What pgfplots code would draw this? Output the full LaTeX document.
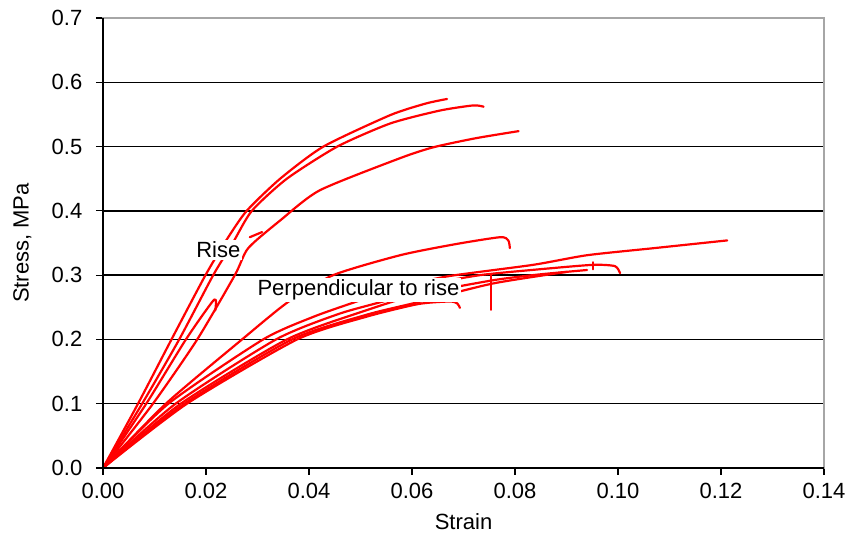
\documentclass[border=0pt]{standalone}
\usepackage{pgfplots}
\pgfplotsset{compat=1.18}
\usepackage{fontspec}
\setmainfont{Liberation Sans}

\begin{document}
\fontsize{11}{13}\selectfont
\begin{tikzpicture}
% frame of the whole picture: 1 px = 0.5pt of the 850x539 reference
\path[use as bounding box] (-51.5pt,-35.5pt) rectangle (373.5pt,234pt);
\begin{axis}[
    scale only axis,
    width=360.5pt, height=225pt,
    xmin=0, xmax=0.14, ymin=0, ymax=0.7,
    xtick={0,0.02,...,0.14}, ytick={0,0.1,...,0.7},
    /pgf/number format/assume math mode=true,
    xticklabel style={/pgf/number format/.cd, fixed, fixed zerofill, precision=2},
    yticklabel style={xshift=-3pt, /pgf/number format/.cd, fixed, fixed zerofill, precision=1},
    scaled x ticks=false, scaled y ticks=false,
    tick align=outside, major tick length=3.5pt,
    xtick pos=left, ytick pos=left,
    tick style={black, line width=0.6pt},
    ymajorgrids, major grid style={black, line width=0.65pt},
    axis line style={gray!70, line width=0.6pt},
    xlabel={Strain}, ylabel={Stress, MPa},
    xlabel style={at={(axis description cs:0.5,-0.12)}, anchor=center},
    ylabel style={at={(axis description cs:-0.1117,0.5)}, anchor=center},
    crv/.style={red, line width=1.1pt, line join=round, line cap=round, mark=none, smooth, tension=0.4},
    seg/.style={red, line width=1.1pt, line cap=round, mark=none},
    clip=false,
]
% Rise
\addplot[crv] coordinates {(0,0) (0.0068,0.1) (0.0133,0.2) (0.0199,0.3) (0.024,0.355) (0.0279,0.4) (0.0344,0.45) (0.0428,0.5) (0.0558,0.549) (0.0627,0.567) (0.0668,0.574)};
\addplot[crv] coordinates {(0,0) (0.0076,0.1) (0.0148,0.2) (0.0214,0.3) (0.0252,0.35) (0.0289,0.4) (0.0357,0.45) (0.0455,0.5) (0.0558,0.536) (0.0654,0.556) (0.0719,0.564) (0.0739,0.562)};
\addplot[crv] coordinates {(0,0) (0.0097,0.1) (0.0183,0.2) (0.0256,0.3) (0.0282,0.342) (0.0344,0.385) (0.0421,0.432) (0.0577,0.482) (0.0642,0.499) (0.0724,0.513) (0.0807,0.524)};
\addplot[crv] coordinates {(0,0) (0.0084,0.1) (0.0161,0.2) (0.0216,0.262) (0.0218,0.245)};
\addplot[seg] coordinates {(0.0285,0.359) (0.0309,0.367)};
% Perpendicular to rise
\addplot[crv] coordinates {(0,0) (0.0122,0.1) (0.027,0.2) (0.0359,0.258) (0.0447,0.3) (0.0577,0.331) (0.0683,0.348) (0.0771,0.359) (0.0787,0.354) (0.079,0.342)};
\addplot[crv] coordinates {(0,0) (0.0127,0.1) (0.0311,0.2) (0.0408,0.235) (0.0489,0.258) (0.0571,0.28) (0.0668,0.298) (0.0835,0.316) (0.094,0.331) (0.107,0.342) (0.1212,0.354)};
\addplot[crv] coordinates {(0,0) (0.0141,0.1) (0.0336,0.2) (0.0459,0.24) (0.0561,0.263) (0.0632,0.285) (0.0732,0.300) (0.0846,0.309) (0.0951,0.316) (0.0994,0.314) (0.1004,0.303)};
\addplot[crv] coordinates {(0,0) (0.0151,0.1) (0.0357,0.2) (0.051,0.245) (0.0612,0.27) (0.0757,0.292) (0.0846,0.301) (0.094,0.308)};
\addplot[seg] coordinates {(0.0951,0.320) (0.0951,0.309)};
\addplot[crv] coordinates {(0,0) (0.0158,0.1) (0.0367,0.2) (0.051,0.238) (0.0612,0.258) (0.0757,0.287) (0.090,0.305)};
\addplot[seg] coordinates {(0.0753,0.300) (0.0753,0.246)};
\addplot[crv] coordinates {(0,0) (0.0163,0.1) (0.0377,0.2) (0.051,0.235) (0.0612,0.255) (0.0673,0.259) (0.0688,0.256) (0.0693,0.249)};
\draw[black, line width=0.65pt] (rel axis cs:0,1) -- (rel axis cs:0,0) -- (rel axis cs:1,0);
\node[fill=white, inner sep=1pt] at (axis cs:0.0224,0.339) {Rise};
\node[fill=white, inner sep=1pt] at (axis cs:0.0496,0.277) {Perpendicular to rise};
\end{axis}
\end{tikzpicture}
\end{document}
